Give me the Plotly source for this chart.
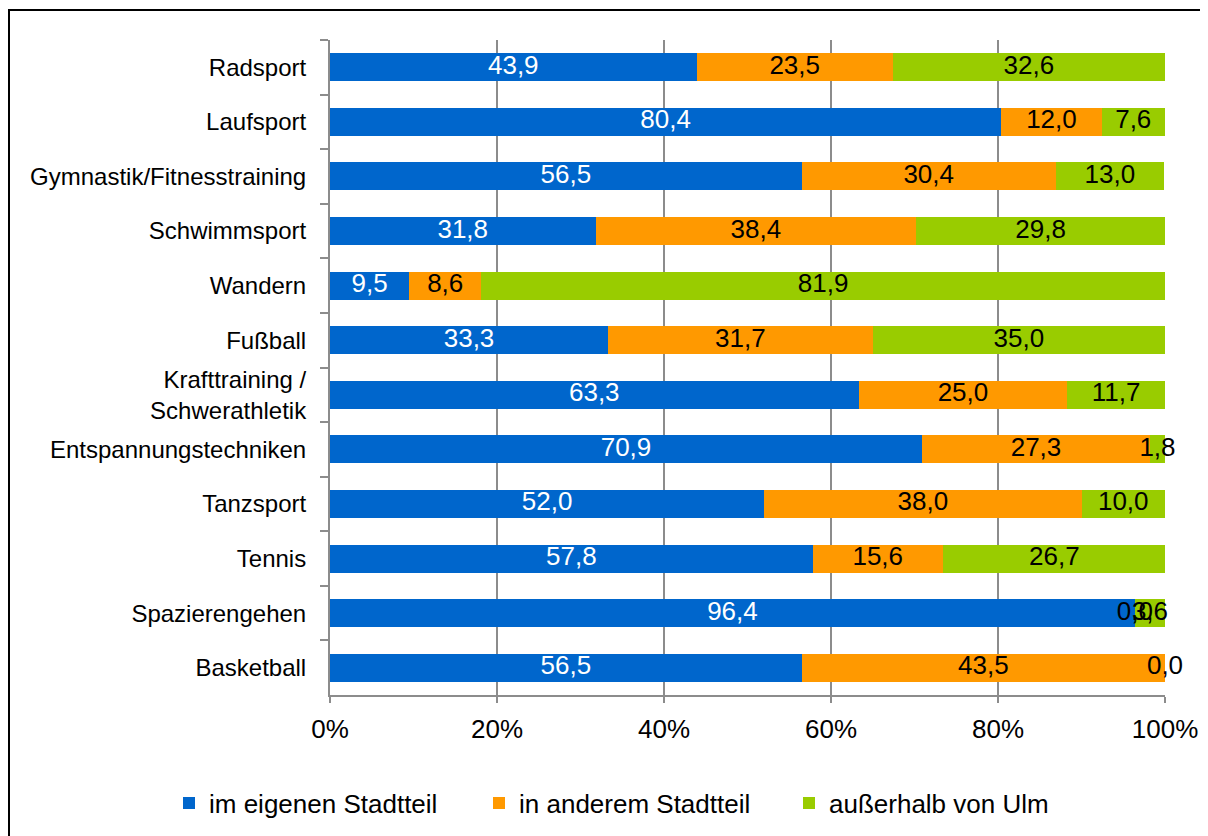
import plotly.graph_objects as go

categories = ["Radsport", "Laufsport", "Gymnastik/Fitnesstraining", "Schwimmsport", "Wandern",
              "Fußball", "Krafttraining /<br>Schwerathletik", "Entspannungstechniken", "Tanzsport",
              "Tennis", "Spazierengehen", "Basketball"]
eigen = [43.9, 80.4, 56.5, 31.8, 9.5, 33.3, 63.3, 70.9, 52.0, 57.8, 96.4, 56.5]
anderer = [23.5, 12.0, 30.4, 38.4, 8.6, 31.7, 25.0, 27.3, 38.0, 15.6, 0.0, 43.5]
ausserhalb = [32.6, 7.6, 13.0, 29.8, 81.9, 35.0, 11.7, 1.8, 10.0, 26.7, 3.6, 0.0]
series_names = ["im eigenen Stadtteil", "in anderem Stadtteil", "außerhalb von Ulm"]
tick_vals = [0, 20, 40, 60, 80, 100]
tick_text = ["0%", "20%", "40%", "60%", "80%", "100%"]

colors = ["#0066CC", "#FF9900", "#99CC00"]
text_colors = ["white", "black", "black"]
FONT = "Liberation Sans, Arial, sans-serif"

fig = go.Figure()
all_series = [eigen, anderer, ausserhalb]
for name, vals, col in zip(series_names, all_series, colors):
    fig.add_trace(go.Bar(
        y=categories, x=vals, name=name, orientation="h",
        marker=dict(color=col, line=dict(width=0)),
    ))

# data labels at segment centres
base = [0.0] * len(categories)
for vals, tc in zip(all_series, text_colors):
    mids = [b + v / 2 for b, v in zip(base, vals)]
    fig.add_trace(go.Scatter(
        x=mids, y=categories, mode="text",
        text=[f"{v:.1f}".replace(".", ",") for v in vals],
        textposition="middle center",
        textfont=dict(family=FONT, size=26, color=tc),
        showlegend=False, hoverinfo="skip", cliponaxis=False,
    ))
    base = [b + v for b, v in zip(base, vals)]

# figure is placed 8px in from the page corner (body margin)
W, H = 1200, 828
ml, mr, mt, mb = 322, 43, 32, 141
pw, ph = W - ml - mr, H - mt - mb

def px_x(p):
    return (p - ml) / pw

def px_y(p):
    return (H - mb - p) / ph

n_cat = len(categories)

fig.update_layout(
    width=W, height=H,
    margin=dict(l=ml, r=mr, t=mt, b=mb, autoexpand=False),
    barmode="stack", bargap=0.487,
    plot_bgcolor="white", paper_bgcolor="white",
    font=dict(family=FONT, size=24, color="black"),
    xaxis=dict(
        range=[0, 100], tickvals=tick_vals, ticktext=tick_text,
        showgrid=True, gridcolor="#8C8C8C", gridwidth=1.5,
        showline=True, linecolor="#8C8C8C", linewidth=2,
        ticks="outside", ticklen=6, tickcolor="#8C8C8C", tickwidth=2,
        ticklabelstandoff=4, zeroline=False,
        tickfont=dict(family=FONT, size=26, color="black"),
    ),
    yaxis=dict(
        categoryorder="array", categoryarray=categories,
        range=[n_cat - 0.5, -0.5], autorange=False,
        showline=True, linecolor="#8C8C8C", linewidth=2,
        ticks="outside", tickson="boundaries", ticklen=8, tickcolor="#8C8C8C", tickwidth=2,
        ticklabelstandoff=17, showgrid=False,
        tickfont=dict(family=FONT, size=24, color="black"),
    ),
    legend=dict(
        orientation="h", x=px_x(161), xanchor="left", y=px_y(795), yanchor="middle",
        font=dict(family=FONT, size=26, color="black"),
        entrywidth=265, itemwidth=30, traceorder="normal",
    ),
    showlegend=True,
)

fig.add_shape(type="rect", xref="paper", yref="paper",
              x0=px_x(1), x1=px_x(1260), y0=px_y(880), y1=px_y(2),
              line=dict(color="black", width=2), fillcolor="rgba(0,0,0,0)", layer="below")

fig.write_html("out.html")
